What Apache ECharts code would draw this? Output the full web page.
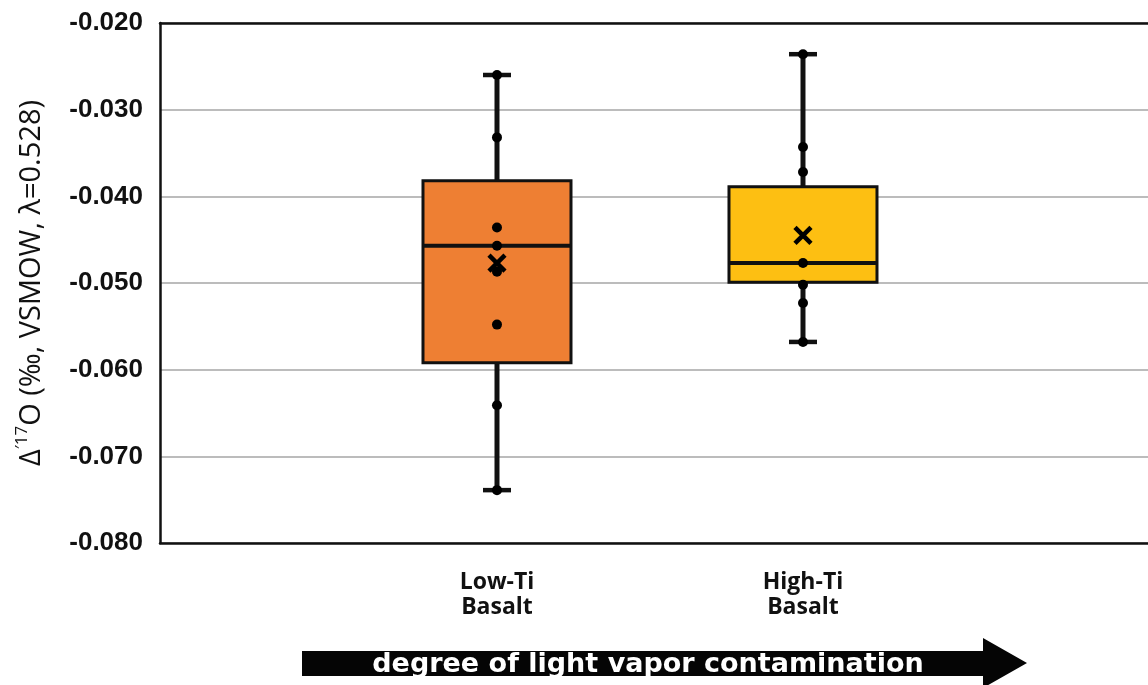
<!DOCTYPE html>
<html>
<head>
<meta charset="utf-8">
<style>
  html, body { margin: 0; padding: 0; background: #fff; }
  #chart { width: 1148px; height: 685px; }
</style>
<script src="https://cdn.jsdelivr.net/npm/echarts@6/dist/echarts.min.js"></script>
</head>
<body>
<div id="chart"></div>
<script>
// Basalt groups and their Δ'17O box statistics (‰)
const categories = ['Low-Ti\nBasalt', 'High-Ti\nBasalt'];
const boxMin    = [-0.0739, -0.0568];
const boxQ1     = [-0.0592, -0.0499];
const boxMedian = [-0.0457, -0.0477];
const boxQ3     = [-0.0382, -0.0389];
const boxMax    = [-0.0260, -0.0236];
const boxMean   = [-0.0477, -0.0445];

// Individual sample measurements per group
const lowTiPoints  = [-0.0260, -0.0332, -0.0436, -0.0457, -0.0487, -0.0548, -0.0641, -0.0739];
const highTiPoints = [-0.0236, -0.0343, -0.0372, -0.0477, -0.0502, -0.0523, -0.0568];

const boxColors = ['#EE7F33', '#FDBF12'];

const chart = echarts.init(document.getElementById('chart'), null, { renderer: 'canvas' });

const boxData = categories.map((c, i) => [i, boxMin[i], boxQ1[i], boxMedian[i], boxQ3[i], boxMax[i]]);
const pointData = lowTiPoints.map(v => [0, v]).concat(highTiPoints.map(v => [1, v]));
const meanData = boxMean.map((v, i) => [i, v]);

// Box with whiskers, end caps and median line
function renderBox(params, api) {
  const i = api.value(0);
  const pMin = api.coord([i, api.value(1)]);
  const pQ1 = api.coord([i, api.value(2)]);
  const pMed = api.coord([i, api.value(3)]);
  const pQ3 = api.coord([i, api.value(4)]);
  const pMax = api.coord([i, api.value(5)]);
  const x = pMin[0];
  const halfBox = 74;
  const halfCap = 14;
  const black = '#111';
  return {
    type: 'group',
    children: [
      { type: 'line', shape: { x1: x, y1: pMax[1], x2: x, y2: pMin[1] },
        style: { stroke: black, lineWidth: 5 } },
      { type: 'line', shape: { x1: x - halfCap, y1: pMax[1], x2: x + halfCap, y2: pMax[1] },
        style: { stroke: black, lineWidth: 4.5 } },
      { type: 'line', shape: { x1: x - halfCap, y1: pMin[1], x2: x + halfCap, y2: pMin[1] },
        style: { stroke: black, lineWidth: 4.5 } },
      { type: 'rect', shape: { x: x - halfBox, y: pQ3[1], width: halfBox * 2, height: pQ1[1] - pQ3[1] },
        style: { fill: boxColors[i], stroke: black, lineWidth: 3 } },
      { type: 'line', shape: { x1: x - halfBox, y1: pMed[1], x2: x + halfBox, y2: pMed[1] },
        style: { stroke: black, lineWidth: 4 } }
    ]
  };
}

// Mean marker drawn as a cross
function renderMean(params, api) {
  const p = api.coord([api.value(0), api.value(1)]);
  const s = 8;
  return {
    type: 'group',
    children: [
      { type: 'line', shape: { x1: p[0] - s, y1: p[1] - s, x2: p[0] + s, y2: p[1] + s },
        style: { stroke: '#000', lineWidth: 4.5 } },
      { type: 'line', shape: { x1: p[0] - s, y1: p[1] + s, x2: p[0] + s, y2: p[1] - s },
        style: { stroke: '#000', lineWidth: 4.5 } }
    ]
  };
}

const option = {
  animation: false,
  backgroundColor: '#fff',
  grid: { left: 160, top: 23, bottom: 142, right: 0 },
  xAxis: [
    {
      type: 'value',
      position: 'bottom',
      min: -1.1013,
      max: 2.1275,
      axisLine: { show: true, onZero: false, lineStyle: { color: '#111', width: 2.5 } },
      axisTick: { show: false },
      splitLine: { show: false },
      axisLabel: {
        customValues: [0, 1],
        formatter: v => categories[Math.round(v)] || '',
        margin: 27,
        fontFamily: 'Open Sans',
        fontWeight: 'bold',
        fontSize: 23,
        lineHeight: 25,
        color: '#111'
      }
    },
    {
      // top frame line
      type: 'value',
      position: 'top',
      min: -1.1013,
      max: 2.1275,
      axisLine: { show: true, onZero: false, lineStyle: { color: '#111', width: 2.5 } },
      axisTick: { show: false },
      axisLabel: { show: false },
      splitLine: { show: false }
    }
  ],
  yAxis: {
    type: 'value',
    min: -0.08,
    max: -0.02,
    interval: 0.01,
    axisLine: { show: true, onZero: false, lineStyle: { color: '#111', width: 2.5 } },
    axisTick: { show: false },
    splitLine: { show: true, lineStyle: { color: '#a6a6a6', width: 1.5 } },
    axisLabel: {
      formatter: v => v.toFixed(3),
      margin: 17,
      fontFamily: 'Liberation Sans',
      fontWeight: 'bold',
      fontSize: 26,
      color: '#111'
    },
    name: "{m|Δ}{s|′17}{m|O (‰, VSMOW, λ=0.528)}",
    nameLocation: 'middle',
    nameRotate: 90,
    nameGap: 110,
    nameTextStyle: {
      rich: {
        m: { fontFamily: 'Open Sans', fontSize: 29, lineHeight: 36, color: '#111' },
        s: { fontFamily: 'Open Sans', fontSize: 17, lineHeight: 20, verticalAlign: 'top', color: '#111' }
      }
    }
  },
  series: [
    {
      type: 'custom',
      name: 'box',
      renderItem: renderBox,
      data: boxData,
      encode: { x: 0, y: [1, 2, 3, 4, 5] },
      z: 2,
      clip: false
    },
    {
      type: 'scatter',
      name: 'samples',
      data: pointData,
      symbol: 'circle',
      symbolSize: 10,
      itemStyle: { color: '#000', opacity: 1 },
      z: 3
    },
    {
      type: 'custom',
      name: 'mean',
      renderItem: renderMean,
      data: meanData,
      encode: { x: 0, y: 1 },
      z: 4
    }
  ],
  graphic: [
    {
      type: 'polygon',
      shape: { points: [[302, 651], [983, 651], [983, 638], [1027, 663], [983, 688], [983, 676], [302, 676]] },
      style: { fill: '#050505' },
      z: 10
    },
    {
      type: 'text',
      x: 648, y: 665,
      style: {
        text: 'degree of light vapor contamination',
        fill: '#fff',
        font: 'bold 27px "DejaVu Sans"',
        align: 'center',
        verticalAlign: 'middle'
      },
      z: 11
    }
  ]
};

chart.setOption(option);
</script>
</body>
</html>
